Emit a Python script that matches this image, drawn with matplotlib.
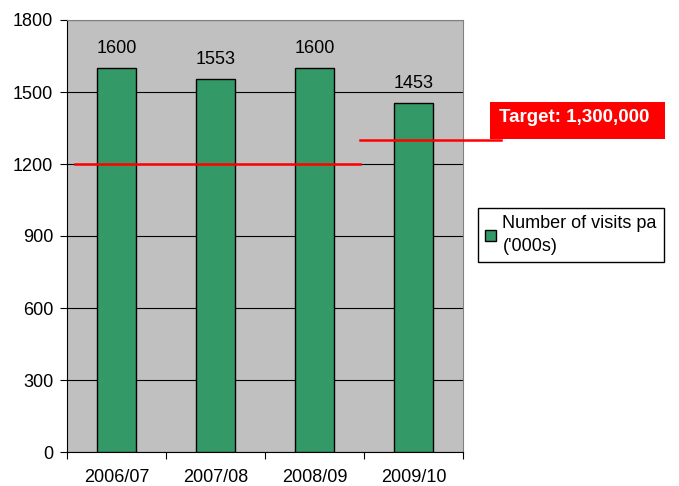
import matplotlib

matplotlib.use("Agg")
import matplotlib.pyplot as plt
from matplotlib.patches import Rectangle

plt.rcParams["font.family"] = ["Liberation Sans", "DejaVu Sans"]

# ── 数据 ──
years = ["2006/07", "2007/08", "2008/09", "2009/10"]
visits = [1600, 1553, 1600, 1453]
target_old = 1200
target_new = 1300
target_label = "Target: 1,300,000"
series_label = "Number of visits pa\n('000s)"
y_ticks = [0, 300, 600, 900, 1200, 1500, 1800]

W, H = 679, 486
fig = plt.figure(figsize=(W / 100, H / 100), dpi=100)
ax = fig.add_axes([67 / W, 1 - 452 / H, 396 / W, 432 / H])
ax.set_facecolor("#C0C0C0")

x = list(range(len(years)))
bars = ax.bar(x, visits, width=0.4, color="#339966", edgecolor="black",
              linewidth=1.0, zorder=3, label=series_label)
ax.bar_label(bars, labels=[str(v) for v in visits], padding=8, fontsize=13)

# 目标线
ax.plot([-0.42, 2.46], [target_old, target_old], color="#FF0000", lw=1.8, zorder=4)
ax.plot([2.46, 3.88], [target_new, target_new], color="#FF0000", lw=1.8,
        zorder=4, clip_on=False)

ax.set_xlim(-0.5, 3.5)
ax.set_ylim(0, 1800)
ax.set_yticks(y_ticks)
ax.yaxis.grid(True, color="black", linewidth=0.8, zorder=1)
ax.set_axisbelow(True)

ax.set_xticks([i - 0.5 for i in range(len(years) + 1)])
ax.set_xticklabels([])
ax.set_xticks(x, minor=True)
ax.set_xticklabels(years, minor=True, fontsize=13)
ax.tick_params(axis="x", which="major", length=5, direction="out")
ax.tick_params(axis="x", which="minor", length=0, pad=12)
ax.tick_params(axis="y", length=5, pad=5, labelsize=13)

for s in ["top", "right"]:
    ax.spines[s].set_color("#808080")
for s in ["left", "bottom"]:
    ax.spines[s].set_color("black")

# 目标标签
fig.patches.append(Rectangle((490 / W, 1 - 139 / H), 175 / W, 37 / H,
                             transform=fig.transFigure, facecolor="#FF0000",
                             edgecolor="none"))
fig.text(574 / W, 1 - 121.7 / H, target_label, color="white", fontsize=13.5,
         fontweight="bold", ha="center", va="baseline")

leg = ax.legend(loc="upper left", bbox_to_anchor=(478 / W, 1 - 208 / H),
                bbox_transform=fig.transFigure, borderaxespad=0,
                fontsize=13, fancybox=False, framealpha=1, edgecolor="black",
                handlelength=0.6, handleheight=0.6, handletextpad=0.35,
                borderpad=0.4)
leg.get_frame().set_linewidth(1.0)
for t in leg.get_texts():
    t.set_linespacing(1.45)

fig.savefig("out.png", dpi=100)
